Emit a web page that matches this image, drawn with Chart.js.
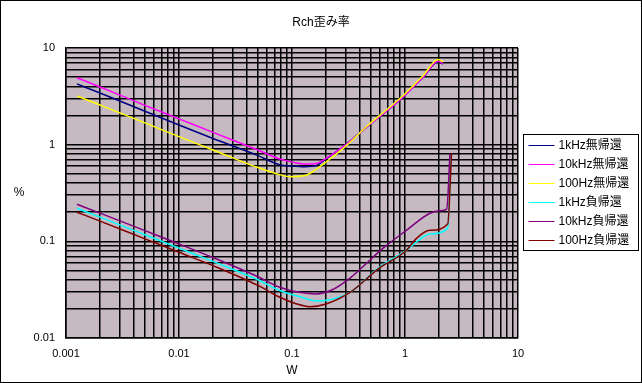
<!DOCTYPE html>
<html>
<head>
<meta charset="utf-8">
<script src="https://cdn.jsdelivr.net/npm/chart.js@4/dist/chart.umd.min.js"></script>
<style>
html,body{margin:0;padding:0;background:#fff;}
#wrap{width:642px;height:383px;position:relative;}
</style>
</head>
<body>
<div id="wrap"><canvas id="c" width="642" height="383"></canvas></div>
<script>
// ---- data ----
const chartTitle = 'Rch歪み率';
const xTitle = 'W';
const yTitle = '%';
const seriesNames = ['1kHz無帰還','10kHz無帰還','100Hz無帰還','1kHz負帰還','10kHz負帰還','100Hz負帰還'];
const seriesColors = ['#000080','#FF00FF','#FFFF00','#00FFFF','#800080','#800000'];

const w1kNoFb   = [0.00125,0.002,0.005,0.01,0.02,0.05,0.078,0.1,0.13,0.165,0.2,0.3,0.46,0.9,1.45,1.96,2.17];
const p1kNoFb   = [4.25,   3.42, 2.22, 1.6, 1.16,0.77,0.62, 0.6,0.59,0.61, 0.71,1.0,1.53,2.9,5.0, 7.2, 6.8];
const w10kNoFb  = [0.00125,0.002,0.005,0.01,0.02,0.05,0.078,0.1,0.13,0.165,0.2,0.3,0.46,0.9,1.45,1.96,2.17];
const p10kNoFb  = [4.93,   3.95, 2.55, 1.85,1.34,0.88,0.71, 0.66,0.63,0.64,0.72,1.0,1.53,2.9,5.0, 7.3, 6.9];
const w100NoFb  = [0.00125,0.002,0.005,0.01,0.02,0.03,0.05,0.078,0.096,0.13,0.165,0.203,0.307,0.46,0.9,1.45,1.96,2.17];
const p100NoFb  = [3.19,   2.57, 1.68, 1.21,0.88,0.73,0.58,0.49, 0.467,0.48,0.56, 0.67, 0.99, 1.55,3.0,5.2, 7.6, 7.2];

const w1kFb     = [0.00125,0.002,0.005,0.01,0.02,0.05,0.078,0.12,0.165,0.22,0.326,0.58,1.03,1.27,1.66,2.39,2.55];
const p1kFb     = [0.22,   0.178,0.117,0.085,0.062,0.04,0.031,0.0265,0.0242,0.025,0.0296,0.053,0.081,0.099,0.119,0.137,0.8];
const w10kFb    = [0.00125,0.002,0.005,0.01,0.02,0.05,0.078,0.12,0.163,0.22,0.326,0.64,1.03,1.66,2.05,2.34,2.5];
const p10kFb    = [0.242,  0.196,0.129,0.094,0.068,0.043,0.0335,0.0295,0.0286,0.031,0.0417,0.085,0.13,0.195,0.207,0.215,0.8];
const w100Fb    = [0.00125,0.002,0.005,0.01,0.02,0.05,0.078,0.11,0.144,0.2,0.326,0.58,1.03,1.27,1.66,2.39,2.58];
const p100Fb    = [0.20,   0.162,0.106,0.077,0.056,0.035,0.0264,0.0225,0.0211,0.0225,0.0296,0.052,0.081,0.108,0.13,0.151,0.82];

const xMultipliers = [1,2,3,4,5,6,7,8,9];
const xDecades = [0.001,0.01,0.1,1];
const yDecades = [0.01,0.1,1];
const xMajorLabels = ['0.001','0.01','0.1','1','10'];
const yMajorLabels = ['0.01','0.1','1','10'];

// ---- build ----
function decadeTicks(decades, last){
  const t = [];
  decades.forEach(d => xMultipliers.forEach(m => t.push(parseFloat((d*m).toPrecision(6)))));
  t.push(last);
  return t;
}
const xTickValues = decadeTicks(xDecades, 10);
const yTickValues = decadeTicks(yDecades, 10);

const seriesX = [w1kNoFb,w10kNoFb,w100NoFb,w1kFb,w10kFb,w100Fb];
const seriesY = [p1kNoFb,p10kNoFb,p100NoFb,p1kFb,p10kFb,p100Fb];

const datasets = seriesNames.map((n,i)=>({
  label:n,
  data: seriesX[i].map((x,j)=>({x:x,y:seriesY[i][j]})),
  borderColor: seriesColors[i],
  backgroundColor: seriesColors[i],
  borderWidth: 1.5,
  pointRadius: 0,
  cubicInterpolationMode: 'monotone',
  order: seriesNames.length - i,
  fill:false
}));

const plotBg = '#c6b9c2';
const FONT = '"Liberation Sans", Arial, "Noto Sans CJK JP", sans-serif';

const decor = {
  id:'decor',
  beforeDraw(chart){
    const {ctx, chartArea:a} = chart;
    ctx.save();
    ctx.fillStyle='#fff'; ctx.fillRect(0,0,chart.width,chart.height);
    ctx.fillStyle = plotBg;
    ctx.fillRect(a.left,a.top,a.right-a.left,a.bottom-a.top);
    ctx.restore();
  },
  afterDraw(chart){
    const {ctx, chartArea:a} = chart;
    ctx.save();
    // outer border
    ctx.strokeStyle='#000'; ctx.lineWidth=1;
    ctx.strokeRect(0.5,0.5,chart.width-1,chart.height-1);
    // title
    ctx.fillStyle='#000';
    ctx.font='12px '+FONT;
    ctx.textAlign='center'; ctx.textBaseline='middle';
    ctx.fillText(chartTitle, chart.width/2, 23);
    // axis titles
    ctx.font='12px '+FONT;
    ctx.fillText(xTitle, (a.left+a.right)/2, 371);
    ctx.fillText(yTitle, 19, (a.top+a.bottom)/2);
    // legend
    const bx = a.right+5.5, bw = 115, rowH = 18.9;
    const bh = 116;
    const by = Math.round(a.top + (a.bottom-a.top-bh)/2) + 0.5 - 1;
    ctx.fillStyle='#fff'; ctx.fillRect(bx,by,bw,bh);
    ctx.strokeStyle='#000'; ctx.lineWidth=1; ctx.strokeRect(bx,by,bw,bh);
    ctx.textAlign='left';
    chart.data.datasets.forEach((ds,i)=>{
      const y = Math.round(by + 10.5 + i*rowH) + 0.5;
      ctx.strokeStyle = ds.borderColor; ctx.lineWidth=1;
      ctx.beginPath(); ctx.moveTo(bx+5, y); ctx.lineTo(bx+31, y); ctx.stroke();
      ctx.fillStyle='#000';
      ctx.fillText(ds.label, bx+35, y+0.5);
    });
    ctx.restore();
  }
};

new Chart(document.getElementById('c'), {
  type:'line',
  data:{datasets},
  plugins:[decor],
  options:{
    responsive:false,
    animation:false,
    devicePixelRatio:1,
    layout:{padding:{left:0,right:124,top:48,bottom:0}},
    plugins:{legend:{display:false},title:{display:false},tooltip:{enabled:false}},
    scales:{
      x:{
        type:'logarithmic', min:0.001, max:10,
        afterBuildTicks(s){ s.ticks = xTickValues.map(v=>({value:v})); },
        afterFit(s){ s.height = 45; },
        ticks:{autoSkip:false, maxRotation:0, padding:9, color:'#000',
          font:{family:FONT,size:11},
          callback(v){ const s=String(v); return xMajorLabels.includes(s)?s:''; }},
        grid:{color:'#000', lineWidth:1.5, drawTicks:false},
        border:{color:'#000', width:1.5}
      },
      y:{
        type:'logarithmic', min:0.01, max:10,
        afterBuildTicks(s){ s.ticks = yTickValues.map(v=>({value:v})); },
        afterFit(s){ s.width = 66; },
        ticks:{autoSkip:false, padding:11, color:'#000',
          font:{family:FONT,size:11},
          callback(v){ const s=String(v); return yMajorLabels.includes(s)?s:''; }},
        grid:{color:'#000', lineWidth:1.5, drawTicks:false},
        border:{color:'#000', width:1.5}
      }
    }
  }
});
</script>
</body>
</html>
